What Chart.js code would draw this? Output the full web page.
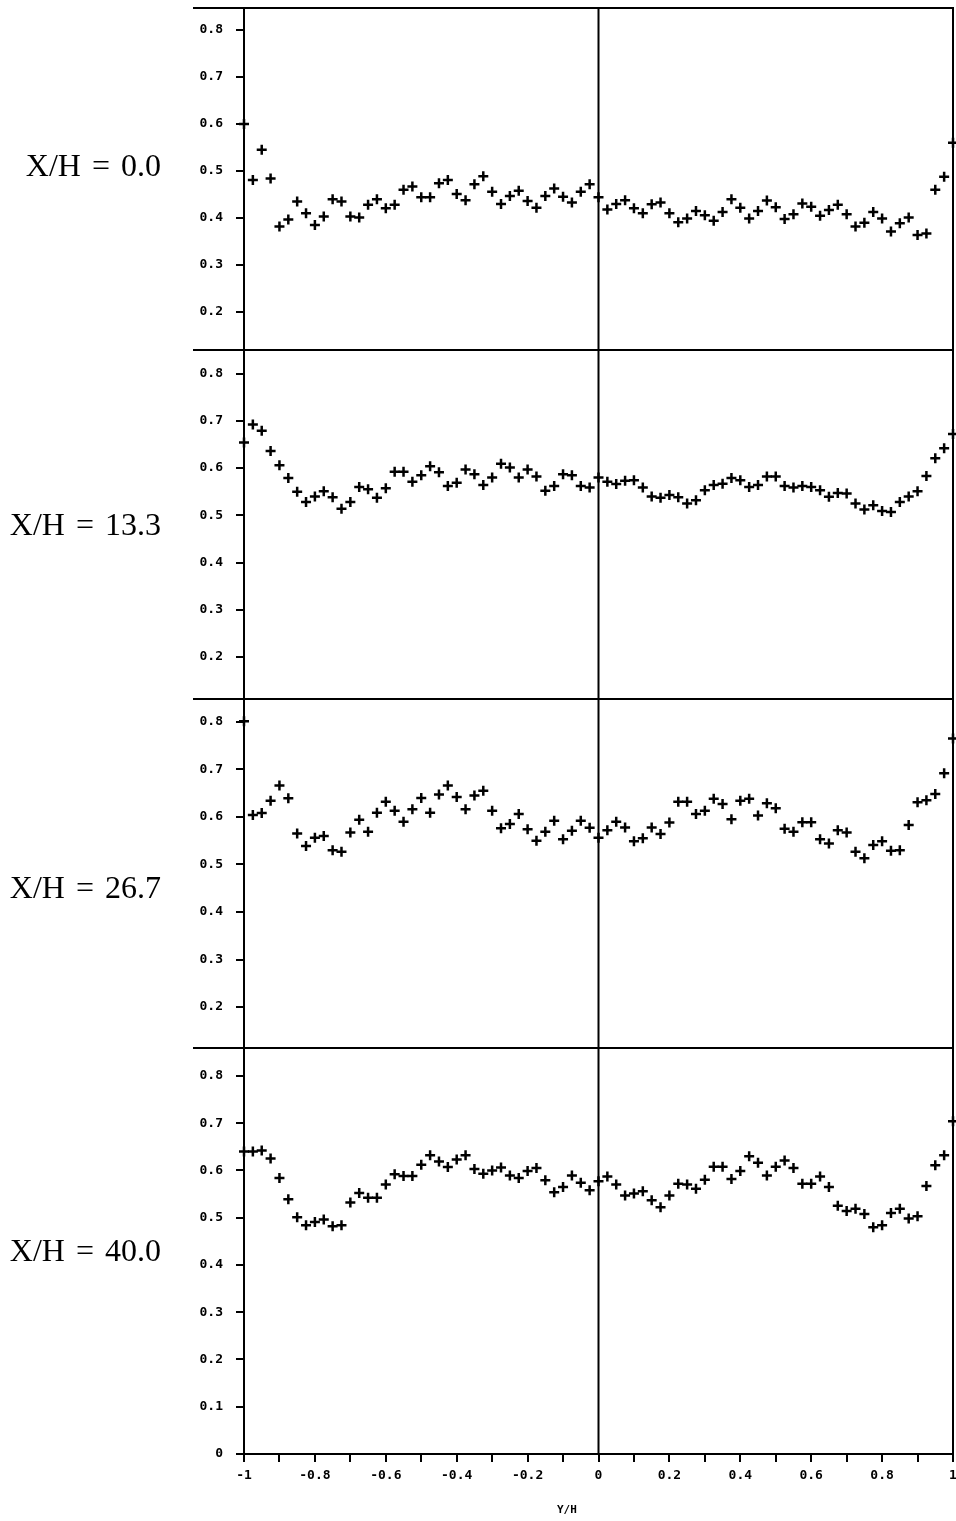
<!DOCTYPE html>
<html>
<head>
<meta charset="utf-8">
<script src="https://cdn.jsdelivr.net/npm/chart.js@4.4.1/dist/chart.umd.min.js"></script>
<style>
    body { margin: 0; overflow: hidden; background: #fff; }
    #wrap { position: relative; width: 956px; height: 1521px; }
    canvas { position: absolute; left: 0; }
    .lab { position: absolute; right: 795px; font-family: "Liberation Serif", serif; font-size: 32px; word-spacing: 3px; white-space: nowrap; transform: translateY(-50%); }
    #xtitle { position: absolute; left: 557px; top: 1503px; font: bold 11px "DejaVu Sans Mono", monospace; }
</style>
</head>
<body>
<div id="wrap">
    <canvas id="p1" width="966" height="358" style="top:0px"></canvas>
    <canvas id="p2" width="966" height="365" style="top:342px"></canvas>
    <canvas id="p3" width="966" height="365" style="top:691px"></canvas>
    <canvas id="p4" width="966" height="481" style="top:1040px"></canvas>
    <div class="lab" style="top:165px">X/H = 0.0</div>
    <div class="lab" style="top:524px">X/H = 13.3</div>
    <div class="lab" style="top:887px">X/H = 26.7</div>
    <div class="lab" style="top:1250px">X/H = 40.0</div>
    <div id="xtitle">Y/H</div>
</div>
<script>
// measurement stations across the channel
let yh = [-1, -0.975, -0.95, -0.925, -0.9, -0.875, -0.85, -0.825, -0.8, -0.775,
    -0.75, -0.725, -0.7, -0.675, -0.65, -0.625, -0.6, -0.575, -0.55, -0.525,
    -0.5, -0.475, -0.45, -0.425, -0.4, -0.375, -0.35, -0.325, -0.3, -0.275,
    -0.25, -0.225, -0.2, -0.175, -0.15, -0.125, -0.1, -0.075, -0.05, -0.025,
    0, 0.025, 0.05, 0.075, 0.1, 0.125, 0.15, 0.175, 0.2, 0.225,
    0.25, 0.275, 0.3, 0.325, 0.35, 0.375, 0.4, 0.425, 0.45, 0.475,
    0.5, 0.525, 0.55, 0.575, 0.6, 0.625, 0.65, 0.675, 0.7, 0.725,
    0.75, 0.775, 0.8, 0.825, 0.85, 0.875, 0.9, 0.925, 0.95, 0.975, 1]

let xh00 = [0.600,
    0.481, 0.545, 0.484, 0.382, 0.397, 0.435, 0.410, 0.385, 0.403, 0.440,
    0.435, 0.403, 0.401, 0.428, 0.440, 0.421, 0.428, 0.460, 0.467, 0.444,
    0.444, 0.474, 0.481, 0.451, 0.438, 0.472, 0.489, 0.456, 0.430, 0.447,
    0.458, 0.436, 0.422, 0.447, 0.463, 0.445, 0.433, 0.456, 0.472,
    0.444,
    0.418, 0.430, 0.438, 0.421, 0.410, 0.429, 0.433, 0.410, 0.391, 0.399,
    0.415, 0.406, 0.394, 0.413, 0.440, 0.422, 0.399, 0.415, 0.437, 0.423,
    0.398, 0.408, 0.431, 0.424, 0.405, 0.417, 0.428, 0.408, 0.382, 0.390,
    0.413, 0.399, 0.371, 0.389, 0.401, 0.364, 0.367, 0.460, 0.488,
    0.560]

let xh133 = [0.654,
    0.692, 0.679, 0.636, 0.606, 0.579, 0.550, 0.528, 0.540, 0.551, 0.538,
    0.514, 0.528, 0.560, 0.555, 0.537, 0.557, 0.592, 0.592, 0.571, 0.585,
    0.604, 0.591, 0.562, 0.569, 0.597, 0.587, 0.564, 0.580, 0.609, 0.601,
    0.580, 0.597, 0.582, 0.552, 0.562, 0.587, 0.585, 0.562, 0.559,
    0.580,
    0.571, 0.566, 0.573, 0.574, 0.559, 0.540, 0.537, 0.543, 0.538, 0.525,
    0.532, 0.553, 0.564, 0.567, 0.579, 0.574, 0.560, 0.564, 0.582, 0.582,
    0.562, 0.559, 0.562, 0.560, 0.553, 0.539, 0.547, 0.546, 0.525, 0.512,
    0.521, 0.509, 0.507, 0.528, 0.540, 0.551, 0.583, 0.621, 0.642,
    0.672]

let xh267 = [0.801,
    0.604, 0.608, 0.634, 0.666, 0.639, 0.565, 0.539, 0.556, 0.560, 0.530,
    0.527, 0.567, 0.594, 0.569, 0.609, 0.632, 0.613, 0.590, 0.616, 0.640,
    0.609, 0.647, 0.666, 0.642, 0.616, 0.645, 0.655, 0.613, 0.576, 0.585,
    0.606, 0.574, 0.550, 0.569, 0.592, 0.553, 0.571, 0.592, 0.577,
    0.556,
    0.572, 0.590, 0.578, 0.549, 0.555, 0.578, 0.564, 0.588, 0.632, 0.632,
    0.606, 0.613, 0.638, 0.627, 0.595, 0.634, 0.638, 0.603, 0.629, 0.618,
    0.575, 0.569, 0.589, 0.589, 0.553, 0.544, 0.572, 0.567, 0.527, 0.513,
    0.541, 0.549, 0.529, 0.530, 0.583, 0.631, 0.635, 0.648, 0.692,
    0.765]

let xh400 = [0.640,
    0.640, 0.642, 0.625, 0.584, 0.539, 0.501, 0.484, 0.491, 0.496, 0.482,
    0.484, 0.532, 0.552, 0.542, 0.542, 0.570, 0.592, 0.588, 0.588, 0.612,
    0.632, 0.619, 0.607, 0.623, 0.632, 0.603, 0.593, 0.600, 0.606, 0.589,
    0.584, 0.599, 0.605, 0.579, 0.554, 0.565, 0.589, 0.574, 0.558,
    0.577,
    0.587, 0.570, 0.547, 0.551, 0.556, 0.537, 0.522, 0.547, 0.572, 0.570,
    0.561, 0.580, 0.608, 0.608, 0.582, 0.599, 0.630, 0.616, 0.589, 0.608,
    0.621, 0.605, 0.572, 0.572, 0.587, 0.565, 0.525, 0.514, 0.519, 0.508,
    0.480, 0.484, 0.510, 0.519, 0.498, 0.503, 0.567, 0.611, 0.632,
    0.704]

let tickFont = { family: "DejaVu Sans Mono", size: 13, weight: "bold" }

// frame, extended top rule and the Y/H = 0 line
let framePlugin = {
    id: "frame",
    beforeDatasetsDraw(chart) {
        let a = chart.chartArea
        let ctx = chart.ctx
        let x0 = chart.scales.x.getPixelForValue(0)
        ctx.save()
        ctx.strokeStyle = "#000"
        ctx.lineWidth = 2
        ctx.beginPath()
        ctx.moveTo(193, a.top)
        ctx.lineTo(a.right + 1, a.top)
        ctx.moveTo(a.left, a.top)
        ctx.lineTo(a.left, a.bottom)
        ctx.moveTo(a.right, a.top)
        ctx.lineTo(a.right, a.bottom)
        ctx.moveTo(a.left, a.bottom)
        ctx.lineTo(a.right + 1, a.bottom)
        ctx.moveTo(x0, a.top)
        ctx.lineTo(x0, a.bottom)
        ctx.stroke()
        ctx.restore()
    }
}

function panel(id, values, yMin, yMax, bottom) {
    let pts = []
    for (let i = 0; i < yh.length; i++) {
        pts.push({ x: yh[i], y: values[i] })
    }
    new Chart(document.getElementById(id), {
        type: "scatter",
        data: {
            datasets: [{
                data: pts,
                pointStyle: "cross",
                pointRadius: 5,
                borderWidth: 2.5,
                borderColor: "#000",
                backgroundColor: "#000",
                clip: false
            }]
        },
        options: {
            responsive: false,
            animation: false,
            events: [],
            layout: { padding: { top: 8, bottom: bottom ? 0 : 8, left: 0, right: 13 } },
            plugins: { legend: { display: false }, tooltip: { enabled: false } },
            scales: {
                x: {
                    type: "linear",
                    min: -1,
                    max: 1,
                    display: bottom,
                    border: { display: false },
                    grid: { drawOnChartArea: false, tickLength: 8, color: "#000", lineWidth: 2 },
                    ticks: {
                        stepSize: 0.1,
                        includeBounds: false,
                        autoSkip: false,
                        maxRotation: 0,
                        color: "#000",
                        font: tickFont,
                        padding: 6,
                        callback: v => {
                            let t = Math.round(v * 10)
                            if (t % 2 !== 0) return ""
                            return String(t / 10)
                        }
                    },
                    afterFit: s => {
                        s.height = bottom ? 67 : 0
                        s.paddingLeft = 0
                        s.paddingRight = 0
                    }
                },
                y: {
                    min: yMin,
                    max: yMax,
                    border: { display: false },
                    grid: { drawOnChartArea: false, tickLength: 8, color: "#000", lineWidth: 2 },
                    ticks: {
                        stepSize: 0.1,
                        includeBounds: false,
                        color: "#000",
                        font: tickFont,
                        padding: 13,
                        callback: v => String(Math.round(v * 10) / 10)
                    },
                    afterFit: s => {
                        s.width = 244
                        s.paddingTop = 0
                        s.paddingBottom = 0
                    }
                }
            }
        },
        plugins: [framePlugin]
    })
}

panel("p1", xh00, 0.119, 0.847, false)
panel("p2", xh133, 0.111, 0.850, false)
panel("p3", xh267, 0.114, 0.848, false)
panel("p4", xh400, 0, 0.859, true)
</script>
</body>
</html>
